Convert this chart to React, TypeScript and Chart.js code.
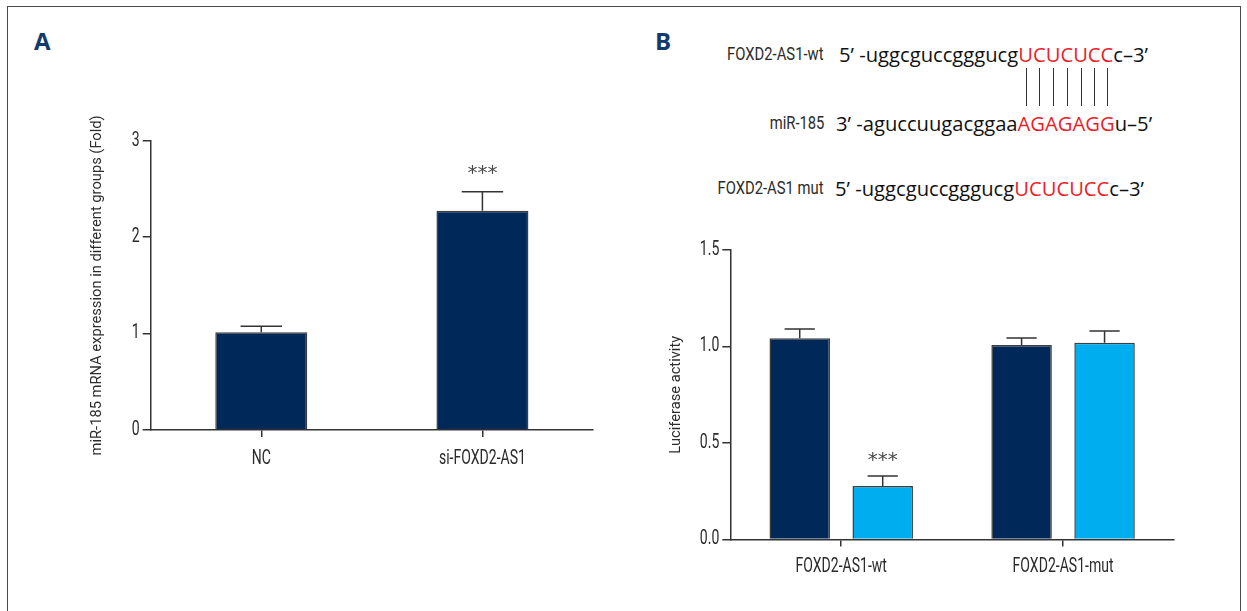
import React, { useEffect, useRef } from "react";
import { Chart, registerables } from "chart.js";

Chart.register(...registerables);

// ---------- data ----------
const categoriesA = ["NC", "si-FOXD2-AS1"];
const valuesA = [1.013, 2.274];
const errorsA = [0.062, 0.197];
const starsA = ["", "***"];
const yTicksA = [0, 1, 2, 3];
const yTitleA = "miR-185 mRNA expression in different groups (Fold)";

const categoriesB = ["FOXD2-AS1-wt", "FOXD2-AS1-mut"];
const seriesB1 = [1.043, 1.008];
const errorsB1 = [0.048, 0.036];
const starsB1 = ["", ""];
const seriesB2 = [0.277, 1.02];
const errorsB2 = [0.052, 0.06];
const starsB2 = ["***", ""];
const yTicksB = [0, 0.5, 1.0, 1.5];
const yTitleB = "Luciferase activity";

const seqLabels = ["FOXD2-AS1-wt", "miR-185", "FOXD2-AS1 mut"];
const seqHeads = ["5’ -uggcguccgggucg", "3’ -aguccuugacggaa", "5’ -uggcguccgggucg"];
const seqSeeds = ["UCUCUCC", "AGAGAGG", "UCUCUCC"];
const seqTails = ["c–3’", "u–5’", "c–3’"];

// ---------- styles ----------
const NAVY = "#00295a";
const LIGHT = "#00adee";
const AXIS = "#333333";
const TEXT = "#2b2b2b";
const NARROW = "Roboto";
const NARROW_X = 0.72;
const SEQFONT = '"Open Sans", "Noto Sans", sans-serif';

const errorBarPlugin = {
  id: "errorBars",
  afterDatasetsDraw(chart: any, _args: any, opts: any) {
    const ctx = chart.ctx;
    const y = chart.scales.y;
    chart.data.datasets.forEach((ds: any, i: number) => {
      const meta = chart.getDatasetMeta(i);
      meta.data.forEach((el: any, j: number) => {
        const v = ds.data[j];
        const e = ds.errors[j];
        const yv = y.getPixelForValue(v);
        const ye = y.getPixelForValue(v + e);
        const cap = el.width * (opts.capRatio || 0.45);
        ctx.save();
        ctx.strokeStyle = AXIS;
        ctx.lineWidth = 1.5;
        ctx.beginPath();
        ctx.moveTo(el.x, yv);
        ctx.lineTo(el.x, ye);
        ctx.moveTo(el.x - cap / 2, ye);
        ctx.lineTo(el.x + cap / 2, ye);
        ctx.stroke();
        const s = ds.stars ? ds.stars[j] : "";
        if (s) {
          ctx.fillStyle = "#4a4a4a";
          ctx.font = "20px 'DejaVu Sans'";
          ctx.textAlign = "center";
          ctx.textBaseline = "middle";
          ctx.fillText(s, el.x, ye - (opts.starGap || 16));
        }
        ctx.restore();
      });
    });
  },
};

// tick labels in a condensed look (horizontally compressed), placed from the scales
const condensedTicksPlugin = {
  id: "condensedTicks",
  afterDraw(chart: any, _args: any, opts: any) {
    const ctx = chart.ctx;
    ctx.save();
    ctx.fillStyle = TEXT;
    ctx.font = `${opts.size}px ${NARROW}`;
    ctx.textBaseline = "middle";
    const xs = chart.scales.x;
    ctx.textAlign = "center";
    xs.ticks.forEach((t: any, i: number) => {
      const px = xs.getPixelForTick(i);
      const label = String(t.label != null ? t.label : chart.data.labels[i]);
      ctx.save();
      ctx.translate(px, xs.top + opts.xGap);
      ctx.scale(NARROW_X, 1);
      ctx.fillText(label, 0, 0);
      ctx.restore();
    });
    const ys = chart.scales.y;
    ctx.textAlign = "right";
    ys.ticks.forEach((t: any, i: number) => {
      const py = ys.getPixelForTick(i);
      ctx.save();
      ctx.translate(ys.right - opts.yGap, py);
      ctx.scale(NARROW_X, 1);
      ctx.fillText(String(t.label), 0, 0);
      ctx.restore();
    });
    ctx.restore();
  },
};

type Geo = {
  left: number;
  top: number;
  width: number;
  height: number;
  pad: { left: number; top: number; right: number; bottom: number };
  yWidth: number;
  xHeight: number;
  xGap: number;
};

function makeConfig(
  categories: string[],
  datasets: any[],
  yTicks: number[],
  yTitle: string,
  decimals: number,
  geo: Geo,
  barPct: number,
  catPct: number,
  starGap: number,
  capRatio: number
): any {
  const step = yTicks[1] - yTicks[0];
  return {
    type: "bar",
    data: { labels: categories, datasets },
    plugins: [errorBarPlugin, condensedTicksPlugin],
    options: {
      responsive: false,
      maintainAspectRatio: false,
      devicePixelRatio: 1,
      animation: false,
      events: [],
      layout: { padding: geo.pad },
      datasets: { bar: { barPercentage: barPct, categoryPercentage: catPct } },
      plugins: {
        legend: { display: false },
        tooltip: { enabled: false },
        errorBars: { starGap, capRatio },
        condensedTicks: { size: 19.5, xGap: geo.xGap, yGap: 11 },
      },
      scales: {
        x: {
          type: "category",
          offset: true,
          afterFit: (s: any) => {
            s.height = geo.xHeight;
          },
          grid: {
            display: true,
            drawOnChartArea: false,
            drawTicks: true,
            tickLength: 7,
            offset: false,
            color: AXIS,
            lineWidth: 1.5,
          },
          border: { display: true, color: AXIS, width: 1.5 },
          ticks: { display: false },
        },
        y: {
          min: yTicks[0],
          max: yTicks[yTicks.length - 1],
          afterFit: (s: any) => {
            s.width = geo.yWidth;
          },
          grid: {
            display: true,
            drawOnChartArea: false,
            drawTicks: true,
            tickLength: 8,
            color: AXIS,
            lineWidth: 1.5,
          },
          border: { display: true, color: AXIS, width: 1.5 },
          ticks: {
            display: false,
            stepSize: step,
            callback: (v: any) => Number(v).toFixed(decimals),
          },
          title: {
            display: true,
            text: yTitle,
            color: TEXT,
            padding: { top: 0, bottom: 0 },
            font: { family: NARROW, size: 14.7 },
          },
        },
      },
    },
  };
}

function ChartBox({ geo, config }: { geo: Geo; config: any }) {
  const ref = useRef<HTMLCanvasElement | null>(null);
  useEffect(() => {
    if (!ref.current) return;
    const chart = new Chart(ref.current, config);
    return () => chart.destroy();
  }, []);
  return (
    <canvas
      ref={ref}
      width={geo.width}
      height={geo.height}
      style={{
        position: "absolute",
        left: geo.left,
        top: geo.top,
        width: geo.width,
        height: geo.height,
      }}
    />
  );
}

const geoA: Geo = {
  left: 0,
  top: 100,
  width: 620,
  height: 390,
  pad: { left: 88.2, top: 40.7, right: 27, bottom: 0 },
  yWidth: 62.5,
  xHeight: 60,
  xGap: 29,
};

const geoB: Geo = {
  left: 620,
  top: 220,
  width: 627,
  height: 380,
  pad: { left: 47.2, top: 30, right: 73, bottom: 0.5 },
  yWidth: 63.1,
  xHeight: 60,
  xGap: 27.2,
};

const configA = makeConfig(
  categoriesA,
  [
    {
      label: "A",
      data: valuesA,
      errors: errorsA,
      stars: starsA,
      backgroundColor: NAVY,
      borderColor: "#3c3c3c",
      borderWidth: 1.5,
    },
  ],
  yTicksA,
  yTitleA,
  0,
  geoA,
  0.416,
  1,
  18.4,
  0.45
);

const configB = makeConfig(
  categoriesB,
  [
    {
      label: "B1",
      data: seriesB1,
      errors: errorsB1,
      stars: starsB1,
      backgroundColor: NAVY,
      borderColor: "#3c3c3c",
      borderWidth: 1.5,
    },
    {
      label: "B2",
      data: seriesB2,
      errors: errorsB2,
      stars: starsB2,
      backgroundColor: LIGHT,
      borderColor: "#3c3c3c",
      borderWidth: 1.5,
    },
  ],
  yTicksB,
  yTitleB,
  1,
  geoB,
  0.729,
  0.748,
  15,
  0.5
);

const rowCenters = [54.3, 123.3, 188.3];
const seqLefts = [839, 836, 835];

export default function App() {
  return (
    <div
      style={{
        position: "fixed",
        left: 0,
        top: 0,
        width: 1247,
        height: 611,
        background: "#ffffff",
        overflow: "hidden",
      }}
    >
      <div
        style={{
          position: "absolute",
          left: 7,
          top: 6,
          width: 1232,
          height: 700,
          borderTop: "1.5px solid #4a4a4a",
          borderLeft: "1.5px solid #4a4a4a",
          borderRight: "1.5px solid #4a4a4a",
        }}
      />
      <div
        style={{
          position: "absolute",
          left: 34,
          top: 29,
          lineHeight: "24px",
          fontSize: 24,
          fontWeight: 700,
          fontFamily: SEQFONT,
          color: "#123a6c",
        }}
      >
        A
      </div>
      <div
        style={{
          position: "absolute",
          left: 655,
          top: 29,
          lineHeight: "24px",
          fontSize: 24,
          fontWeight: 700,
          fontFamily: SEQFONT,
          color: "#123a6c",
        }}
      >
        B
      </div>

      {seqLabels.map((lab, i) => (
        <div
          key={"l" + i}
          style={{
            position: "absolute",
            right: 1247 - 824,
            top: rowCenters[i] - 12,
            lineHeight: "24px",
            fontSize: 18.5,
            fontFamily: NARROW,
            color: TEXT,
            whiteSpace: "nowrap",
            transform: "scaleX(0.8)",
            transformOrigin: "right center",
          }}
        >
          {lab}
        </div>
      ))}

      {seqHeads.map((head, i) => (
        <div
          key={"s" + i}
          style={{
            position: "absolute",
            left: seqLefts[i],
            top: rowCenters[i] - 12,
            lineHeight: "24px",
            fontSize: 20.2,
            fontFamily: SEQFONT,
            color: "#111111",
            whiteSpace: "nowrap",
          }}
        >
          {head}
          {seqSeeds[i].split("").map((ch, k) => (
            <span
              key={k}
              style={{
                color: "#ea2228",
                display: "inline-block",
                position: "relative",
              }}
            >
              {ch}
              {i === 0 ? (
                <span
                  style={{
                    position: "absolute",
                    left: "50%",
                    top: 25.7,
                    width: 1,
                    height: 38,
                    background: "#333333",
                  }}
                />
              ) : null}
            </span>
          ))}
          {seqTails[i]}
        </div>
      ))}

      <ChartBox geo={geoA} config={configA} />
      <ChartBox geo={geoB} config={configB} />
    </div>
  );
}
